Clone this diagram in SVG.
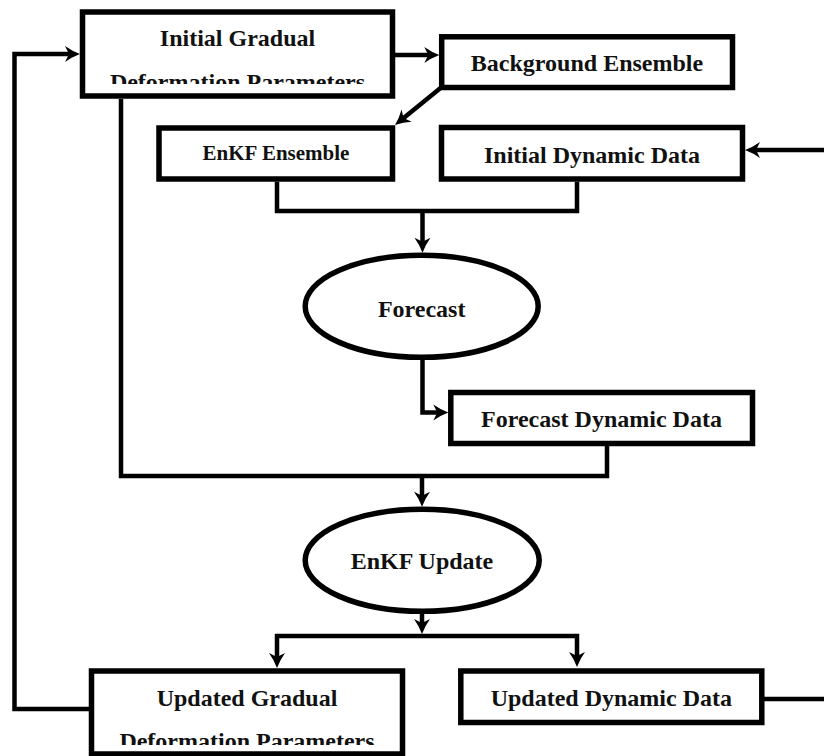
<svg xmlns="http://www.w3.org/2000/svg" width="824" height="756" viewBox="0 0 824 756">
<style>
.box{fill:#fff;stroke:#000;stroke-width:5.5}
.conn{fill:none;stroke:#000;stroke-width:4.5;stroke-linejoin:miter;stroke-linecap:butt}
.arr{marker-end:url(#ah)}
text{font-family:"Liberation Serif","Times New Roman",serif;font-weight:bold;font-size:24px;fill:#111;text-anchor:middle}
.sm{font-size:21px}
</style>
<defs>
<marker id="ah" markerUnits="userSpaceOnUse" markerWidth="30" markerHeight="30" refX="0" refY="0" orient="auto" overflow="visible">
<path d="M8,0 Q0,-3 -7,-8 L-3,0 L-7,8 Q0,3 8,0 Z" fill="#000"/>
</marker>
<clipPath id="c1"><rect x="85" y="15" width="305" height="69"/></clipPath>
<clipPath id="c2"><rect x="94" y="674" width="306" height="71"/></clipPath>
</defs>
<g id="connectors">
<path class="conn arr" d="M89,709 H14.5 V54 H72"/>
<path class="conn arr" d="M395,55 H431.3"/>
<path class="conn arr" d="M443,86 L401.2,120"/>
<path class="conn arr" d="M824,150 H753"/>
<path class="conn" d="M277,181.7 V211 H577 V181.7"/>
<path class="conn arr" d="M422.5,211 V244.7"/>
<path class="conn arr" d="M422.5,357 V412.5 H440.3"/>
<path class="conn" d="M121,99 V476 H607 V446"/>
<path class="conn arr" d="M422,476 V498.7"/>
<path class="conn arr" d="M422,612 V626"/>
<path class="conn arr" d="M422,636 H277 V660"/>
<path class="conn arr" d="M422,636 H577 V659"/>
<path class="conn" d="M764,699 H824"/>
</g>
<g id="initial-gradual">
<rect class="box" x="82.5" y="12" width="310" height="84"/>
<g clip-path="url(#c1)">
<text x="237.5" y="46">Initial Gradual</text>
<text x="237.5" y="90">Deformation Parameters</text>
</g>
</g>
<g id="background-ensemble">
<rect class="box" x="441.7" y="36.8" width="290.8" height="50.7"/>
<text x="587" y="71">Background Ensemble</text>
</g>
<g id="enkf-ensemble">
<rect class="box" x="159" y="128" width="233.5" height="51"/>
<text class="sm" x="276" y="160">EnKF Ensemble</text>
</g>
<g id="initial-dynamic">
<rect class="box" x="441.5" y="127.5" width="301" height="51.5"/>
<text x="592" y="162.5">Initial Dynamic Data</text>
</g>
<g id="forecast">
<ellipse class="box" cx="421.7" cy="306.3" rx="116.5" ry="51"/>
<text x="421.7" y="317.3">Forecast</text>
</g>
<g id="forecast-dynamic">
<rect class="box" x="450.8" y="392.5" width="301.7" height="51"/>
<text x="601.5" y="426.7">Forecast Dynamic Data</text>
</g>
<g id="enkf-update">
<ellipse class="box" cx="422.2" cy="560.3" rx="117" ry="51"/>
<text x="422" y="569.3">EnKF Update</text>
</g>
<g id="updated-gradual">
<rect class="box" x="91.5" y="671" width="311" height="83"/>
<g clip-path="url(#c2)">
<text x="247" y="706">Updated Gradual</text>
<text x="247" y="748.5">Deformation Parameters</text>
</g>
</g>
<g id="updated-dynamic">
<rect class="box" x="460.8" y="671" width="301" height="51.5"/>
<text x="611.3" y="706">Updated Dynamic Data</text>
</g>
</svg>
